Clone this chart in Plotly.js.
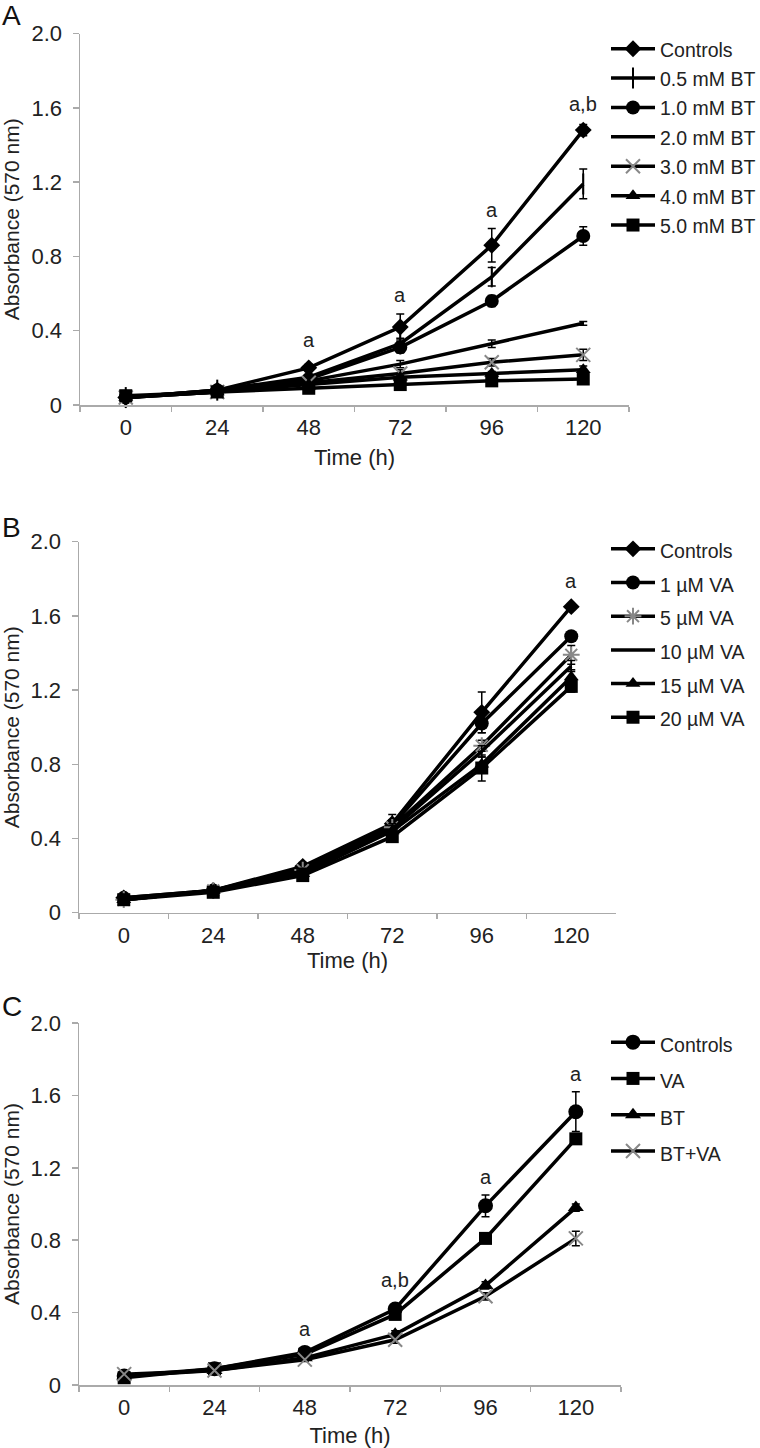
<!DOCTYPE html>
<html>
<head>
<meta charset="utf-8">
<script src="https://cdn.plot.ly/plotly-3.0.1.min.js"></script>
<style>html,body{margin:0;padding:0;background:#fff;}#chart{width:760px;height:1448px;}</style>
</head>
<body>
<div id="chart"></div>
<script>
// ---------- shared ----------
const timeLabels = ["0", "24", "48", "72", "96", "120"];
const yTickVals = [0, 0.4, 0.8, 1.2, 1.6, 2.0];
const yTickText = ["0", "0.4", "0.8", "1.2", "1.6", "2.0"];

// ---------- Panel A (BT) ----------
const namesA = ["Controls", "0.5 mM BT", "1.0 mM BT", "2.0 mM BT", "3.0 mM BT", "4.0 mM BT", "5.0 mM BT"];
const a_controls = [0.04, 0.08, 0.20, 0.42, 0.86, 1.48];
const a_bt05 = [0.04, 0.08, 0.15, 0.33, 0.69, 1.19];
const a_bt10 = [0.04, 0.08, 0.14, 0.31, 0.56, 0.91];
const a_bt20 = [0.04, 0.07, 0.13, 0.22, 0.33, 0.44];
const a_bt30 = [0.04, 0.07, 0.12, 0.17, 0.23, 0.27];
const a_bt40 = [0.04, 0.07, 0.11, 0.15, 0.17, 0.19];
const a_bt50 = [0.05, 0.07, 0.09, 0.11, 0.13, 0.14];
const a_err_controls = [0.01, 0.01, 0.02, 0.07, 0.09, 0.03];
const a_err_bt05 = [0.01, 0.01, 0.01, 0.03, 0.05, 0.08];
const a_err_bt10 = [0.01, 0.01, 0.01, 0.03, 0.03, 0.05];
const a_err_bt20 = [0.01, 0.01, 0.01, 0.02, 0.02, 0.01];
const a_err_bt30 = [0.01, 0.01, 0.01, 0.02, 0.02, 0.03];
const a_err_bt40 = [0.01, 0.01, 0.01, 0.01, 0.01, 0.02];
const a_err_bt50 = [0.01, 0.01, 0.01, 0.01, 0.01, 0.02];
const annA_x = ["48", "72", "96", "120"];
const annA_y = [0.35, 0.59, 1.05, 1.62];
const annA_text = ["a", "a", "a", "a,b"];

// ---------- Panel B (VA) ----------
const namesB = ["Controls", "1 µM VA", "5 µM VA", "10 µM VA", "15 µM VA", "20 µM VA"];
const b_controls = [0.08, 0.12, 0.25, 0.48, 1.08, 1.65];
const b_va1 = [0.08, 0.12, 0.24, 0.47, 1.02, 1.49];
const b_va5 = [0.07, 0.12, 0.23, 0.46, 0.90, 1.39];
const b_va10 = [0.07, 0.12, 0.22, 0.45, 0.87, 1.33];
const b_va15 = [0.07, 0.12, 0.21, 0.44, 0.80, 1.27];
const b_va20 = [0.07, 0.11, 0.20, 0.41, 0.78, 1.22];
const b_err_controls = [0.01, 0.01, 0.02, 0.05, 0.11, 0.01];
const b_err_va1 = [0.01, 0.01, 0.02, 0.03, 0.05, 0.02];
const b_err_va5 = [0.01, 0.01, 0.02, 0.03, 0.03, 0.05];
const b_err_va10 = [0.01, 0.01, 0.02, 0.03, 0.03, 0.03];
const b_err_va15 = [0.01, 0.01, 0.02, 0.03, 0.04, 0.04];
const b_err_va20 = [0.01, 0.01, 0.02, 0.03, 0.07, 0.03];
const annB_x = ["120"];
const annB_y = [1.79];
const annB_text = ["a"];

// ---------- Panel C (BT + VA) ----------
const namesC = ["Controls", "VA", "BT", "BT+VA"];
const c_controls = [0.05, 0.09, 0.18, 0.42, 0.99, 1.51];
const c_va = [0.04, 0.09, 0.17, 0.39, 0.81, 1.36];
const c_bt = [0.05, 0.08, 0.15, 0.28, 0.55, 0.98];
const c_btva = [0.06, 0.08, 0.14, 0.25, 0.49, 0.81];
const c_err_controls = [0.01, 0.01, 0.01, 0.02, 0.06, 0.11];
const c_err_va = [0.01, 0.01, 0.01, 0.02, 0.02, 0.02];
const c_err_bt = [0.01, 0.01, 0.01, 0.02, 0.02, 0.02];
const c_err_btva = [0.01, 0.01, 0.01, 0.02, 0.02, 0.04];
const annC_x = ["48", "72", "96", "120"];
const annC_y = [0.31, 0.58, 1.15, 1.72];
const annC_text = ["a", "a,b", "a", "a"];

// ---------- building ----------
const FONT = "Liberation Sans, Arial, Helvetica, sans-serif";
const W = 760, H = 1448;
const fx = px => px / W;
const fy = py => 1 - py / H;

function mk(name, y, err, sym, size, mcolor, xa, ya, leg, legText) {
  const open = sym.indexOf("open") >= 0;
  const t = {
    type: "scatter", mode: sym === "none" ? "lines" : "lines+markers",
    name: legText, x: timeLabels, y: y, xaxis: xa, yaxis: ya, legend: leg,
    cliponaxis: false,
    line: {color: "#000", width: 3.5},
    error_y: {type: "data", array: err, visible: true, color: "#000", thickness: 1.5, width: 4}
  };
  if (sym !== "none") {
    t.marker = {
      symbol: sym, size: size, color: open ? mcolor : "#000",
      line: {color: mcolor, width: open ? 2 : 0}
    };
  }
  return t;
}

function wrap(t) { return '<span style="font-size:19.5px">' + t + '</span>'; }

const traces = [];
const symA = ["diamond", "line-ns-open", "circle", "none", "x-thin-open", "triangle-up", "square"];
const sizeA = [13, 15, 14, 0, 14, 13, 13];
const colA = ["#000", "#000", "#000", "#000", "#888", "#000", "#000"];
const dataA = [a_controls, a_bt05, a_bt10, a_bt20, a_bt30, a_bt40, a_bt50];
const errA = [a_err_controls, a_err_bt05, a_err_bt10, a_err_bt20, a_err_bt30, a_err_bt40, a_err_bt50];
namesA.forEach((n, i) => traces.push(mk(n, dataA[i], errA[i], symA[i], sizeA[i], colA[i], "x", "y", "legend", wrap(n))));

const symB = ["diamond", "circle", "asterisk-open", "none", "triangle-up", "square"];
const sizeB = [13, 14, 14, 0, 13, 13];
const colB = ["#000", "#000", "#888", "#000", "#000", "#000"];
const dataB = [b_controls, b_va1, b_va5, b_va10, b_va15, b_va20];
const errB = [b_err_controls, b_err_va1, b_err_va5, b_err_va10, b_err_va15, b_err_va20];
namesB.forEach((n, i) => traces.push(mk(n, dataB[i], errB[i], symB[i], sizeB[i], colB[i], "x2", "y2", "legend2", wrap(n))));

const symC = ["circle", "square", "triangle-up", "x-thin-open"];
const sizeC = [15, 13, 14, 14];
const colC = ["#000", "#000", "#000", "#888"];
const dataC = [c_controls, c_va, c_bt, c_btva];
const errC = [c_err_controls, c_err_va, c_err_bt, c_err_btva];
namesC.forEach((n, i) => traces.push(mk(n, dataC[i], errC[i], symC[i], sizeC[i], colC[i], "x3", "y3", "legend3", wrap(n))));

function xax(d0, d1, anchor, standoff) {
  return {
    domain: [fx(d0), fx(d1)], anchor: anchor, type: "category", categoryarray: timeLabels,
    range: [-0.5, 5.5], tickson: "boundaries", ticks: "outside", ticklen: 5, tickwidth: 1.5,
    tickcolor: "#aaa", showline: true, linecolor: "#aaa", linewidth: 1.5, showgrid: false,
    zeroline: false, fixedrange: true, ticklabelstandoff: 2,
    tickfont: {family: FONT, size: 22, color: "#222"},
    title: {text: "Time (h)", font: {family: FONT, size: 22, color: "#222"}, standoff: standoff}
  };
}
function yax(top, bottom, anchor) {
  return {
    domain: [fy(bottom), fy(top)], anchor: anchor, range: [0, 2.0],
    tickvals: yTickVals, ticktext: yTickText, ticks: "outside", ticklen: 6, tickwidth: 1.5,
    tickcolor: "#aaa", showline: true, linecolor: "#aaa", linewidth: 1.5, showgrid: false,
    zeroline: false, fixedrange: true, ticklabelstandoff: 6,
    tickfont: {family: FONT, size: 22, color: "#222"},
    title: {text: "Absorbance (570 nm)", font: {family: FONT, size: 21, color: "#222"}, standoff: 6}
  };
}

function anns(xs, ys, ts, xr, yr) {
  return xs.map((x, i) => ({
    x: timeLabels.indexOf(x), y: ys[i], xref: xr, yref: yr, text: ts[i], showarrow: false,
    font: {family: FONT, size: 20, color: "#222"}
  }));
}

const annotations = []
  .concat(anns(annA_x, annA_y, annA_text, "x", "y"))
  .concat(anns(annB_x, annB_y, annB_text, "x2", "y2"))
  .concat(anns(annC_x, annC_y, annC_text, "x3", "y3"))
  .concat([
    {text: "A", x: 0, y: fy(15), xref: "paper", yref: "paper", xanchor: "left", yanchor: "middle", showarrow: false, font: {family: FONT, size: 28, color: "#111"}},
    {text: "B", x: 0, y: fy(527), xref: "paper", yref: "paper", xanchor: "left", yanchor: "middle", showarrow: false, font: {family: FONT, size: 28, color: "#111"}},
    {text: "C", x: 0, y: fy(1007), xref: "paper", yref: "paper", xanchor: "left", yanchor: "middle", showarrow: false, font: {family: FONT, size: 28, color: "#111"}}
  ]);

function leg(x, yTop, size) {
  return {
    x: fx(x), y: fy(yTop), xanchor: "left", yanchor: "top", bgcolor: "rgba(0,0,0,0)",
    borderwidth: 0, itemwidth: 44, tracegroupgap: 0, itemclick: false, itemdoubleclick: false,
    font: {family: FONT, size: size, color: "#222"}
  };
}

const layout = {
  width: W, height: H, margin: {l: 0, r: 0, t: 0, b: 0, autoexpand: false},
  paper_bgcolor: "#fff", plot_bgcolor: "#fff", showlegend: true,
  xaxis: xax(80, 629, "y", 10), yaxis: yax(33.5, 405, "x"),
  xaxis2: xax(79, 616, "y2", 5), yaxis2: yax(541.7, 912.7, "x2"),
  xaxis3: xax(79, 621, "y3", 10), yaxis3: yax(1023, 1385, "x3"),
  legend: leg(606, 29, 20.3),
  legend2: leg(606, 527, 23.6),
  legend3: leg(606, 1019, 25.6),
  annotations: annotations
};

Plotly.newPlot("chart", traces, layout, {staticPlot: true, displayModeBar: false});
</script>
</body>
</html>
